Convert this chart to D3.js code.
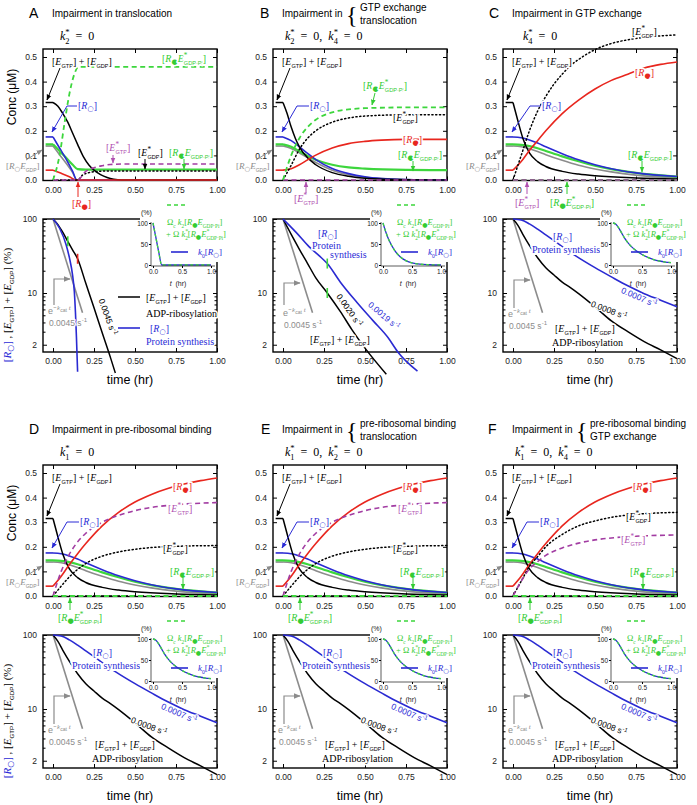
<!DOCTYPE html>
<html><head><meta charset="utf-8">
<script src="https://cdn.jsdelivr.net/npm/d3@7"></script>
<style>body{margin:0;background:#fff}text{white-space:pre}</style>
</head><body>
<svg id="c" width="697" height="805"></svg>
<script>
// ---------- tick labels ----------
const tTicks = [0, 0.25, 0.5, 0.75, 1];
const tTickLabels = ['0.00', '0.25', '0.50', '0.75', '1.00'];
const concTicks = [0, 0.1, 0.2, 0.3, 0.4, 0.5];
const concTickLabels = ['0.0', '0.1', '0.2', '0.3', '0.4', '0.5'];
const pctTicks = [2, 10, 100];
const pctTickLabels = ['2', '10', '100'];
const pctMinor = [3, 4, 5, 6, 7, 8, 9, 20, 30, 40, 50, 60, 70, 80, 90];
const insetXTicks = [0, 0.5, 1];
const insetXLabels = ['0.0', '0.5', '1.0'];
const insetYTicks = [0, 50, 100];

// ---------- pre-phase (t < 0) levels ----------
const preStart = -0.045;
const preKeys = ['gray', 'greenS', 'blue', 'black', 'red'];
const preValues = [0.138, 0.145, 0.175, 0.315, 0.04];

// ---------- top panels: concentration (uM) vs time (hr) ----------
const zeroLine = [[0, 0], [1, 0]];
const A_black = [[0,0.315],[0.03,0.3],[0.06,0.27],[0.09,0.235],[0.12,0.19],[0.15,0.145],[0.185,0.095],[0.22,0.06],[0.25,0.04],[0.29,0.022],[0.33,0.01],[0.37,0.003],[0.42,0],[1,0]];
const A_blue = [[0,0.175],[0.04,0.13],[0.08,0.085],[0.12,0.035],[0.145,0],[1,0]];
const A_gray = [[0,0.138],[0.04,0.103],[0.08,0.068],[0.12,0.03],[0.145,0],[1,0]];
const A_green = [[0,0.145],[0.04,0.118],[0.08,0.09],[0.12,0.062],[0.15,0.044],[0.2,0.042],[1,0.042]];
const A_red = [[0,0.04],[0.05,0.027],[0.1,0.013],[0.14,0],[1,0]];
const A_greenDash = [[0,0],[0.04,0.1],[0.07,0.23],[0.1,0.35],[0.13,0.43],[0.155,0.46],[1,0.46]];
const A_magDash = [[0,0],[0.15,0],[0.2,0.035],[0.25,0.05],[0.3,0.058],[0.35,0.063],[0.45,0.065],[1,0.065]];
const A_dotted = [[0,0],[0.15,0],[0.18,0.02],[0.22,0.03],[0.27,0.035],[0.35,0.037],[1,0.037]];

const B_black = [[0,0.315],[0.025,0.27],[0.05,0.215],[0.075,0.17],[0.1,0.135],[0.15,0.09],[0.2,0.062],[0.3,0.03],[0.4,0.015],[0.5,0.007],[0.75,0.001],[1,0]];
const B_blue = [[0,0.175],[0.05,0.16],[0.1,0.135],[0.15,0.108],[0.2,0.083],[0.3,0.047],[0.4,0.026],[0.5,0.013],[0.6,0.006],[0.75,0.002],[1,0]];
const B_gray = [[0,0.138],[0.05,0.128],[0.1,0.11],[0.15,0.09],[0.2,0.071],[0.3,0.04],[0.4,0.021],[0.5,0.011],[0.75,0.002],[1,0]];
const B_green = [[0,0.145],[0.05,0.135],[0.1,0.117],[0.15,0.098],[0.2,0.082],[0.3,0.062],[0.4,0.051],[0.5,0.046],[0.75,0.041],[1,0.04]];
const B_red = [[0,0.04],[0.05,0.046],[0.1,0.062],[0.15,0.082],[0.2,0.101],[0.3,0.13],[0.4,0.148],[0.5,0.157],[0.6,0.162],[0.75,0.165],[1,0.165]];
const B_greenDash = [[0,0],[0.05,0.1],[0.1,0.17],[0.15,0.215],[0.2,0.245],[0.3,0.275],[0.4,0.287],[0.5,0.292],[0.75,0.295],[1,0.295]];
const B_dotted = [[0,0],[0.05,0.06],[0.1,0.125],[0.15,0.17],[0.2,0.2],[0.3,0.235],[0.4,0.252],[0.5,0.26],[0.75,0.265],[1,0.265]];

const CF_black = [[0,0.315],[0.03,0.24],[0.06,0.17],[0.1,0.11],[0.15,0.075],[0.2,0.055],[0.3,0.035],[0.4,0.024],[0.5,0.017],[0.75,0.008],[1,0.004]];
const CF_blue = [[0,0.175],[0.05,0.172],[0.1,0.163],[0.15,0.15],[0.2,0.135],[0.3,0.107],[0.4,0.082],[0.5,0.062],[0.6,0.046],[0.75,0.029],[1,0.014]];
const CF_green = [[0,0.145],[0.05,0.143],[0.1,0.138],[0.15,0.129],[0.2,0.118],[0.3,0.096],[0.4,0.076],[0.5,0.058],[0.6,0.044],[0.75,0.029],[1,0.014]];
const CF_gray = [[0,0.138],[0.05,0.135],[0.1,0.127],[0.15,0.116],[0.2,0.103],[0.3,0.08],[0.4,0.06],[0.5,0.045],[0.6,0.033],[0.75,0.02],[1,0.009]];
const C_red = [[0,0.04],[0.05,0.075],[0.1,0.12],[0.15,0.16],[0.2,0.2],[0.3,0.27],[0.4,0.325],[0.5,0.37],[0.6,0.405],[0.7,0.43],[0.8,0.455],[0.9,0.47],[1,0.48]];
const C_dotted = [[0,0],[0.05,0.1],[0.1,0.2],[0.15,0.28],[0.2,0.34],[0.25,0.39],[0.3,0.43],[0.35,0.465],[0.4,0.49],[0.5,0.53],[0.6,0.555],[0.7,0.57],[0.85,0.583],[1,0.59]];
const DE_red = [[0,0.04],[0.05,0.08],[0.1,0.128],[0.15,0.172],[0.2,0.213],[0.3,0.285],[0.4,0.34],[0.5,0.382],[0.6,0.413],[0.7,0.437],[0.8,0.455],[0.9,0.469],[1,0.48]];
const DE_magDash = [[0,0],[0.05,0.1],[0.1,0.17],[0.15,0.22],[0.2,0.255],[0.3,0.3],[0.4,0.328],[0.5,0.347],[0.6,0.36],[0.75,0.371],[1,0.38]];
const DE_dotted = [[0,0],[0.05,0.04],[0.1,0.078],[0.15,0.108],[0.2,0.132],[0.3,0.162],[0.4,0.179],[0.5,0.19],[0.6,0.197],[0.75,0.202],[1,0.205]];
const F_dotted = [[0,0],[0.05,0.06],[0.1,0.12],[0.15,0.16],[0.2,0.2],[0.3,0.25],[0.4,0.285],[0.5,0.305],[0.6,0.32],[0.75,0.332],[1,0.34]];
const F_magDash = [[0,0],[0.05,0.06],[0.1,0.11],[0.15,0.14],[0.2,0.165],[0.3,0.195],[0.4,0.215],[0.5,0.228],[0.6,0.236],[0.75,0.243],[1,0.248]];

// ---------- bottom panels: % remaining (log) ----------
const pctGray = [[0,100],[0.18,5.4]];
const A_botBlack = [[0,100],[0.03,84],[0.06,66],[0.09,50],[0.12,38],[0.15,29],[0.2,13.5],[0.25,6.3],[0.3,2.9],[0.35,1.35],[0.38,0.83]];
const A_botBlue = [[0,100],[0.04,75],[0.08,45],[0.1,30],[0.12,17],[0.13,10.5],[0.137,5.4],[0.143,2.5],[0.15,0.86]];
const B_botBlack = [[0,100],[0.05,62],[0.1,39],[0.15,25],[0.2,16],[0.27,10],[0.35,5.6],[0.42,3.2],[0.5,1.8],[0.63,0.8]];
const B_botBlue = [[0,100],[0.08,66],[0.16,42],[0.22,32],[0.27,25],[0.35,14],[0.45,7.5],[0.55,4.2],[0.64,2.5],[0.7,1.6],[0.82,0.88]];
const CF_botBlack = [[0,100],[0.03,82],[0.06,62],[0.1,44],[0.15,30],[0.2,22],[0.25,17.5],[0.3,14],[0.35,11.8],[0.4,9.8],[0.5,6.5],[0.6,4.2],[0.7,3],[0.8,2.2],[0.9,1.7],[1,1.3]];
const CF_botBlue = [[0,100],[0.05,97],[0.1,86],[0.15,73],[0.2,61],[0.25,51],[0.38,32],[0.5,22],[0.6,16.5],[0.7,12.5],[0.8,9.8],[0.9,8],[1,6.5]];
const A_markT = [0.09, 0.15], A_markV = [50, 29], A_markC = ['greenS', 'red'];
const B_markT = [0.27, 0.27], B_markV = [25, 10], B_markC = ['greenS', 'greenS'];

// ---------- insets ----------
const A_inset = [[0,100],[0.05,65],[0.1,30],[0.15,0],[1,0]];
const B_inset = [[0,100],[0.05,78],[0.1,60],[0.2,35],[0.3,19],[0.4,10],[0.5,5],[0.6,2.5],[0.8,0.6],[1,0]];
const CF_inset = [[0,100],[0.05,97],[0.1,88],[0.15,76],[0.2,64],[0.3,46],[0.4,34],[0.5,25],[0.6,18],[0.7,13],[0.8,9.5],[0.9,7],[1,5.5]];

// ---------- styles ----------
const SERIF = '"Liberation Serif","Times New Roman",serif';
const SANS = '"Liberation Sans",Arial,sans-serif';
const SYM = '"DejaVu Sans",sans-serif';
const STY = {
  gray: {c: '#8c8c8c', w: 1.6}, greenS: {c: '#3dd63d', w: 2.2}, blue: {c: '#2a2ad2', w: 1.6},
  black: {c: '#000', w: 1.5}, red: {c: '#e8261e', w: 1.6}, magD: {c: '#a23ca2', w: 1.6, dash: '5,3.5'},
  dot: {c: '#000', w: 1.5, dash: '1.2,2.6'}, greenD: {c: '#3dd63d', w: 1.8, dash: '5,3.5'}, blackD: {c: '#000', w: 1.4, dash: '3,5'}
};
const TXT = {black: '#000', blue: '#2b2bd6', green: '#33cc33', mag: '#b050b0', red: '#e8261e', gray: '#8c8c8c'};

const colX = [0, 230, 460], rowY = [0, 416];
const xT = d3.scaleLinear().domain([0, 1]).range([53, 217]);
const yT = d3.scaleLinear().domain([0, 0.5]).range([180, 57]);
const yB = d3.scaleLog().domain([10, 100]).range([293, 219]);
const xI = d3.scaleLinear().domain([0, 1]).range([153, 211]);
const yI = d3.scaleLinear().domain([0, 100]).range([265, 223]);

const svg = d3.select('#c');
const defs = svg.append('defs');
Object.entries(TXT).forEach(([k, c]) => {
  defs.append('marker').attr('id', 'ah-' + k).attr('viewBox', '0 0 10 10').attr('refX', 9).attr('refY', 5)
    .attr('markerWidth', 6).attr('markerHeight', 6).attr('orient', 'auto')
    .append('path').attr('d', 'M0,1L10,5L0,9z').attr('fill', c);
});

function rich(g, str, x, y, o = {}) {
  const fs = o.fs || 10;
  const t = g.append('text').attr('x', x).attr('y', y)
    .attr('font-family', o.family || SERIF).attr('font-size', fs)
    .attr('fill', o.fill || '#000').attr('text-anchor', o.anchor || 'start');
  if (o.rotate) t.attr('transform', `rotate(${o.rotate},${x},${y})`);
  if (o.halo) t.attr('stroke', '#fff').attr('stroke-width', o.halo).attr('paint-order', 'stroke').attr('stroke-linejoin', 'round');
  const segs = [];
  let buf = '', it = false, i = 0;
  const flush = () => { if (buf) { segs.push({s: buf, it, k: 'n'}); buf = ''; } };
  while (i < str.length) {
    const c = str[i];
    if (c === '`') { flush(); it = !it; i++; continue; }
    if ((c === '_' || c === '^') && str[i + 1] === '{') {
      flush();
      const e = str.indexOf('}', i + 2);
      segs.push({s: str.slice(i + 2, e), it: false, k: c === '_' ? 'sub' : 'sup'});
      i = e + 1; continue;
    }
    buf += c; i++;
  }
  flush();
  let cur = 0, prev = null;
  segs.forEach(sg => {
    let sh = 0, size = fs, fam = null, dx = 0;
    if (sg.k === 'sub') {
      const sym = sg.s === '○' || sg.s === '●';
      sh = sym ? 0.2 * fs : 0.3 * fs;
      size = sym ? 0.72 * fs : (o.subSize || 0.56) * fs;
      fam = sym ? SYM : (o.subFam || SANS);
      if (prev && prev.k === 'sup') dx = -prev.w;
    } else if (sg.k === 'sup') { sh = -0.42 * fs; size = 0.72 * fs; }
    const ts = t.append('tspan').text(sg.s).attr('font-size', size).attr('dy', sh - cur);
    if (dx) ts.attr('dx', dx);
    if (fam) ts.attr('font-family', fam);
    if (sg.k === 'sub' && (sg.s === '○')) ts.attr('font-weight', 'bold');
    if (sg.it) ts.attr('font-style', 'italic');
    cur = sh;
    sg.w = ts.node().getComputedTextLength();
    prev = sg;
  });
  return t;
}
function arrow(g, pts, col, w = 1) {
  g.append('path').attr('d', d3.line()(pts)).attr('fill', 'none').attr('stroke', TXT[col])
    .attr('stroke-width', w).attr('marker-end', `url(#ah-${col})`);
}
function seg(g, pts, col, w = 1.6, dash = null) {
  g.append('path').attr('d', d3.line()(pts)).attr('fill', 'none').attr('stroke', col).attr('stroke-width', w).attr('stroke-dasharray', dash);
}

const L = {
  EE: '[`E`_{GTP}] + [`E`_{GDP}]', Ro: '[`R`_{○}]', Rf: '[`R`_{●}]',
  RfEs: '[`R`_{●}`E`^{*}_{GDP·Pi}]', RfE: '[`R`_{●}`E`_{GDP·Pi}]',
  EsT: '[`E`^{*}_{GTP}]', EsD: '[`E`^{*}_{GDP}]', RoE: '[`R`_{○}`E`_{GDP}]'
};

// ---------- panel definitions ----------
const panels = [
  {id: 'A', col: 0, row: 0, lx: 29, title: ['translocation'], k: '`k`^{*}_{2}  =  0', kx: 60,
   top: [[A_gray, 'gray'], [A_green, 'greenS'], [A_blue, 'blue'], [A_black, 'black'], [A_red, 'red'], [A_dotted, 'dot'], [A_magDash, 'magD'], [A_greenDash, 'greenD']],
   bot: {black: A_botBlack, blue: A_botBlue, mT: A_markT, mV: A_markV, mC: A_markC}, inset: A_inset, kind: 'A'},
  {id: 'B', col: 1, row: 0, lx: 30, title: ['GTP exchange', 'translocation'], k: '`k`^{*}_{2}  =  0,  `k`^{*}_{4}  =  0', kx: 55,
   top: [[B_gray, 'gray'], [B_green, 'greenS'], [B_blue, 'blue'], [B_black, 'black'], [B_red, 'red'], [B_dotted, 'dot'], [zeroLine, 'magD'], [B_greenDash, 'greenD']],
   bot: {black: B_botBlack, blue: B_botBlue, mT: B_markT, mV: B_markV, mC: B_markC}, inset: B_inset, kind: 'B'},
  {id: 'C', col: 2, row: 0, lx: 29, title: ['GTP exchange'], k: '`k`^{*}_{4}  =  0', kx: 63,
   top: [[CF_gray, 'gray'], [CF_green, 'greenS'], [CF_blue, 'blue'], [CF_black, 'black'], [C_red, 'red'], [C_dotted, 'dot'], [zeroLine, 'greenD'], [zeroLine, 'magD']],
   bot: {black: CF_botBlack, blue: CF_botBlue}, inset: CF_inset, kind: 'C'},
  {id: 'D', col: 0, row: 1, lx: 29, title: ['pre-ribosomal binding'], k: '`k`^{*}_{1}  =  0', kx: 60,
   top: [[zeroLine, 'blackD'], [CF_gray, 'gray'], [CF_green, 'greenS'], [CF_blue, 'blue'], [CF_black, 'black'], [DE_red, 'red'], [DE_dotted, 'dot'], [DE_magDash, 'magD'], [zeroLine, 'greenD']],
   bot: {black: CF_botBlack, blue: CF_botBlue}, inset: CF_inset, kind: 'D'},
  {id: 'E', col: 1, row: 1, lx: 31, title: ['pre-ribosomal binding', 'translocation'], k: '`k`^{*}_{1}  =  0,  `k`^{*}_{2}  =  0', kx: 55,
   top: [[zeroLine, 'blackD'], [CF_gray, 'gray'], [CF_green, 'greenS'], [CF_blue, 'blue'], [CF_black, 'black'], [DE_red, 'red'], [DE_dotted, 'dot'], [DE_magDash, 'magD'], [zeroLine, 'greenD']],
   bot: {black: CF_botBlack, blue: CF_botBlue}, inset: CF_inset, kind: 'D'},
  {id: 'F', col: 2, row: 1, lx: 28, title: ['pre-ribosomal binding', 'GTP exchange'], k: '`k`^{*}_{1}  =  0,  `k`^{*}_{4}  =  0', kx: 55,
   top: [[zeroLine, 'blackD'], [CF_gray, 'gray'], [CF_green, 'greenS'], [CF_blue, 'blue'], [CF_black, 'black'], [DE_red, 'red'], [F_dotted, 'dot'], [F_magDash, 'magD'], [zeroLine, 'greenD']],
   bot: {black: CF_botBlack, blue: CF_botBlue}, inset: CF_inset, kind: 'F'}
];

function styleAxis(a, fs = 8.5) {
  a.select('.domain').remove();
  a.attr('font-family', SANS).attr('font-size', fs);
  a.selectAll('line').attr('stroke', '#000');
  a.selectAll('text').attr('fill', '#222');
}

function drawTitle(g, p) {
  g.append('text').attr('x', p.lx).attr('y', 18).attr('font-family', SANS).attr('font-size', 14).text(p.id);
  if (p.title.length === 1) {
    g.append('text').attr('x', 52).attr('y', 17).attr('font-family', SANS).attr('font-size', 10).text('Impairment in ' + p.title[0]);
  } else {
    g.append('text').attr('x', 52).attr('y', 17).attr('font-family', SANS).attr('font-size', 10).text('Impairment in');
    g.append('text').attr('x', 116).attr('y', 23).attr('font-family', SERIF).attr('font-size', 24).attr('font-weight', 300).text('{');
    g.append('text').attr('x', 130).attr('y', 11).attr('font-family', SANS).attr('font-size', 10).text(p.title[0]);
    g.append('text').attr('x', 130).attr('y', 24).attr('font-family', SANS).attr('font-size', 10).text(p.title[1]);
  }
  rich(g, p.k, p.kx, 40, {fs: 12, subFam: SERIF, subSize: 0.7});
}

function drawTop(g, p) {
  g.append('rect').attr('x', 43).attr('y', 49).attr('width', 174).attr('height', 131.5)
    .attr('fill', 'none').attr('stroke', '#000').attr('stroke-width', 1.4);
  const ax = g.append('g').attr('transform', 'translate(0,180.5)')
    .call(d3.axisBottom(xT).tickValues(tTicks).tickFormat((d, i) => tTickLabels[i]).tickSizeInner(-4).tickSizeOuter(0).tickPadding(6));
  styleAxis(ax);
  const at = g.append('g').attr('transform', 'translate(0,49)')
    .call(d3.axisTop(xT).tickValues(tTicks).tickFormat('').tickSizeInner(-4).tickSizeOuter(0));
  styleAxis(at);
  const ay = g.append('g').attr('transform', 'translate(43,0)')
    .call(d3.axisLeft(yT).tickValues(concTicks).tickFormat((d, i) => concTickLabels[i]).tickSizeInner(-4).tickSizeOuter(0).tickPadding(6));
  styleAxis(ay);
  const ar = g.append('g').attr('transform', 'translate(217,0)')
    .call(d3.axisRight(yT).tickValues(concTicks).tickFormat('').tickSizeInner(-4).tickSizeOuter(0));
  styleAxis(ar);

  const line = d3.line().x(d => xT(d[0])).y(d => yT(d[1])).curve(d3.curveMonotoneX);
  preKeys.forEach((k, i) => {
    const s = STY[k];
    g.append('path').attr('d', d3.line().x(d => xT(d[0])).y(d => yT(d[1]))([[preStart, preValues[i]], [0, preValues[i]]]))
      .attr('fill', 'none').attr('stroke', s.c).attr('stroke-width', s.w);
  });
  p.top.forEach(([d, k]) => {
    const s = STY[k];
    g.append('path').attr('d', line(d)).attr('fill', 'none').attr('stroke', s.c).attr('stroke-width', s.w)
      .attr('stroke-dasharray', s.dash || null).attr('stroke-linecap', k === 'dot' ? 'round' : 'butt');
  });

  // common annotations
  rich(g, L.EE, 52, 65, {halo: 3});
  arrow(g, [[60, 68], [47, 100]], 'black');
  rich(g, L.RoE, 6, 169, {fill: TXT.gray, fs: 9});
  arrow(g, [[26, 160], [42, 150]], 'gray');

  const K = p.kind;
  if (K === 'A') {
    rich(g, L.Ro, 78, 109, {fill: TXT.blue, halo: 3});
    arrow(g, [[77, 106], [67, 106], [52, 132]], 'blue');
    rich(g, L.RfEs, 162, 62, {fill: TXT.green, halo: 3});
    rich(g, L.EsT, 106, 151, {fill: TXT.mag, halo: 3});
    arrow(g, [[113, 155], [113, 163]], 'mag');
    rich(g, L.EsD, 138, 156, {halo: 3});
    arrow(g, [[145, 159], [145, 169]], 'black');
    rich(g, L.RfE, 169, 156, {fill: TXT.green, halo: 3});
    arrow(g, [[184, 159], [184, 169]], 'green');
    rich(g, L.Rf, 72, 207, {fill: TXT.red});
    arrow(g, [[78, 197], [78, 182]], 'red');
  } else if (K === 'B') {
    rich(g, L.Ro, 80, 109, {fill: TXT.blue, halo: 3});
    arrow(g, [[79, 106], [67, 106], [52, 132]], 'blue');
    rich(g, L.RfEs, 133, 89, {fill: TXT.green, halo: 3});
    arrow(g, [[145, 93], [142, 105]], 'green');
    rich(g, L.EsD, 163, 121, {halo: 3});
    rich(g, L.Rf, 173, 143, {fill: TXT.red, halo: 3});
    rich(g, L.RfE, 168, 158, {fill: TXT.green, halo: 3});
    arrow(g, [[183, 161], [183, 171]], 'green');
    rich(g, L.EsT, 64, 202, {fill: TXT.mag});
    arrow(g, [[76, 193], [76, 182]], 'mag');
  } else if (K === 'C') {
    rich(g, L.EsD, 172, 35, {halo: 3});
    rich(g, L.Rf, 175, 76, {fill: TXT.red, halo: 3});
    rich(g, L.Ro, 82, 109, {fill: TXT.blue, halo: 3});
    arrow(g, [[81, 106], [70, 106], [52, 132]], 'blue');
    rich(g, L.RfE, 168, 158, {fill: TXT.green, halo: 3});
    arrow(g, [[182, 161], [182, 172]], 'green');
    rich(g, L.EsT, 55, 206, {fill: TXT.mag});
    arrow(g, [[67, 194], [67, 182]], 'mag');
    rich(g, L.RfEs, 90, 206, {fill: TXT.green});
    arrow(g, [[107, 194], [107, 182]], 'green');
  } else {
    rich(g, L.Rf, 173, 74, {fill: TXT.red, halo: 3});
    if (K === 'F') {
      rich(g, L.EsD, 166, 104, {halo: 3});
      rich(g, L.EsT, 161, 127, {fill: TXT.mag, halo: 3});
    } else {
      rich(g, L.EsT, 168, 96, {fill: TXT.mag, halo: 3});
      rich(g, L.EsD, 163, 136, {halo: 3});
    }
    rich(g, L.Ro, 80, 109, {fill: TXT.blue, halo: 3});
    arrow(g, [[79, 106], [67, 106], [52, 132]], 'blue');
    rich(g, L.RfE, 170, 159, {fill: TXT.green, halo: 3});
    arrow(g, [[183, 162], [183, 173]], 'green');
    rich(g, L.RfEs, 58, 205, {fill: TXT.green});
    arrow(g, [[70, 194], [70, 182]], 'green');
  }
}

function grayLabel(g, ax, ay) {
  const t = g.append('text').attr('x', ax).attr('y', ay).attr('font-family', SANS).attr('font-size', 9).attr('fill', TXT.gray)
    .attr('stroke', '#fff').attr('stroke-width', 2.5).attr('paint-order', 'stroke');
  t.append('tspan').text('e');
  t.append('tspan').attr('dy', -4).attr('font-size', 7).text('−');
  t.append('tspan').attr('font-size', 7).attr('font-family', SERIF).attr('font-style', 'italic').text('k');
  t.append('tspan').attr('dy', 2).attr('font-size', 5).text('cat');
  t.append('tspan').attr('dy', -2).attr('font-size', 7).attr('font-family', SERIF).attr('font-style', 'italic').text(' t');
  rich(g, '0.0045 s^{-1}', ax + 1, ay + 12, {family: SANS, fs: 8.5, fill: TXT.gray, halo: 2.5});
}

function drawBottom(g, p) {
  g.append('rect').attr('x', 43).attr('y', 219).attr('width', 174).attr('height', 133)
    .attr('fill', 'none').attr('stroke', '#000').attr('stroke-width', 1.4);
  const ax = g.append('g').attr('transform', 'translate(0,352)')
    .call(d3.axisBottom(xT).tickValues(tTicks).tickFormat((d, i) => tTickLabels[i]).tickSizeInner(-4).tickSizeOuter(0).tickPadding(6));
  styleAxis(ax);
  const ay = g.append('g').attr('transform', 'translate(43,0)')
    .call(d3.axisLeft(yB).tickValues(pctTicks).tickFormat((d, i) => pctTickLabels[i]).tickSizeInner(-4).tickSizeOuter(0).tickPadding(6));
  styleAxis(ay);
  const am = g.append('g').attr('transform', 'translate(43,0)')
    .call(d3.axisLeft(yB).tickValues(pctMinor).tickFormat('').tickSizeInner(-2.5).tickSizeOuter(0));
  styleAxis(am);
  const ar = g.append('g').attr('transform', 'translate(217,0)')
    .call(d3.axisRight(yB).tickValues(pctTicks).tickFormat('').tickSizeInner(-4).tickSizeOuter(0));
  styleAxis(ar);
  const arm = g.append('g').attr('transform', 'translate(217,0)')
    .call(d3.axisRight(yB).tickValues(pctMinor).tickFormat('').tickSizeInner(-2.5).tickSizeOuter(0));
  styleAxis(arm);

  const line = d3.line().x(d => xT(d[0])).y(d => yB(d[1])).curve(d3.curveMonotoneX);
  g.append('path').attr('d', line(pctGray)).attr('fill', 'none').attr('stroke', STY.gray.c).attr('stroke-width', 1.6);
  g.append('path').attr('d', line(p.bot.black)).attr('fill', 'none').attr('stroke', '#000').attr('stroke-width', 1.5);
  g.append('path').attr('d', line(p.bot.blue)).attr('fill', 'none').attr('stroke', STY.blue.c).attr('stroke-width', 1.6);
  if (p.bot.mT) p.bot.mT.forEach((t, i) => {
    const x = xT(t), y = yB(p.bot.mV[i]);
    seg(g, [[x, y - 5], [x, y + 5]], STY[p.bot.mC[i]].c, 1.6);
  });

  const K = p.kind;
  if (K === 'A') {
    grayLabel(g, 48, 314);
    arrow(g, [[54, 305], [54, 279], [70, 279]], 'gray', 1.2);
    rich(g, '0.0045 s^{-1}', 105, 318, {family: SANS, fs: 8.5, anchor: 'middle', rotate: 70, halo: 2.5});
    seg(g, [[118, 297], [140, 297]], '#000', 1.5);
    rich(g, L.EE, 146, 301, {halo: 3});
    rich(g, 'ADP-ribosylation', 146, 317, {halo: 3});
    seg(g, [[118, 328], [140, 328]], STY.blue.c, 1.6);
    rich(g, L.Ro, 150, 332, {fill: TXT.blue, halo: 3});
    rich(g, 'Protein synthesis', 146, 345, {fill: TXT.blue, halo: 3});
  } else if (K === 'B') {
    grayLabel(g, 53, 316);
    arrow(g, [[54, 305], [54, 283], [70, 283]], 'gray', 1.2);
    rich(g, L.Ro, 88, 237, {fill: TXT.blue, halo: 3});
    rich(g, 'Protein', 82, 249, {fill: TXT.blue, halo: 3});
    rich(g, 'synthesis', 100, 258, {fill: TXT.blue, halo: 3});
    rich(g, '0.0019 s^{-1}', 152, 318, {family: SANS, fs: 8.5, anchor: 'middle', rotate: 40, fill: TXT.blue, halo: 2.5});
    rich(g, '0.0020 s^{-1}', 117, 312, {family: SANS, fs: 8.5, anchor: 'middle', rotate: 55, halo: 2.5});
    rich(g, L.EE, 80, 343, {halo: 3});
  } else {
    grayLabel(g, 48, 317);
    arrow(g, [[54, 308], [54, 280], [70, 280]], 'gray', 1.2);
    rich(g, L.Ro, 93, 240, {fill: TXT.blue, halo: 3});
    rich(g, 'Protein synthesis', 72, 253, {fill: TXT.blue, halo: 4});
    rich(g, '0.0007 s^{-1}', 178, 300, {family: SANS, fs: 8.5, anchor: 'middle', rotate: 23, fill: TXT.blue, halo: 2.5});
    rich(g, '0.0008 s^{-1}', 148, 313, {family: SANS, fs: 8.5, anchor: 'middle', rotate: 21, halo: 2.5});
    rich(g, L.EE, 95, 332, {halo: 3});
    rich(g, 'ADP-ribosylation', 92, 346, {halo: 3});
  }
  drawInset(g, p);
  g.append('text').attr('x', 130).attr('y', 384).attr('text-anchor', 'middle').attr('font-family', SANS).attr('font-size', 12.5).text('time (hr)');
}

function drawInset(g, p) {
  g.append('rect').attr('x', 140).attr('y', 198).attr('width', 97).attr('height', 64).attr('fill', '#fff');
  const il = d3.line().x(d => xI(d[0])).y(d => yI(d[1])).curve(d3.curveMonotoneX);
  g.append('path').attr('d', il(p.inset)).attr('fill', 'none').attr('stroke', STY.blue.c).attr('stroke-width', 1.3);
  g.append('path').attr('d', il(p.inset)).attr('fill', 'none').attr('stroke', STY.greenS.c).attr('stroke-width', 1.3).attr('stroke-dasharray', '3,2.5');
  seg(g, [[151, 222], [151, 266]], '#333', 0.8);
  seg(g, [[151, 266], [215, 266]], '#333', 0.8);
  const ay = g.append('g').attr('transform', 'translate(151,0)')
    .call(d3.axisLeft(yI).tickValues(insetYTicks).tickSizeInner(2).tickSizeOuter(0).tickPadding(1));
  styleAxis(ay, 6.5);
  const ax = g.append('g').attr('transform', 'translate(0,266)')
    .call(d3.axisBottom(xI).tickValues(insetXTicks).tickFormat((d, i) => insetXLabels[i]).tickSizeInner(2).tickSizeOuter(0).tickPadding(1));
  styleAxis(ax, 6.5);
  g.append('text').attr('x', 141).attr('y', 215).attr('font-family', SANS).attr('font-size', 7).attr('fill', '#222').text('(%)');
  rich(g, '`t`  (hr)', 178, 286, {family: SANS, fs: 7, anchor: 'middle', fill: '#222'});
  seg(g, [[167, 205], [188, 205]], STY.greenS.c, 1.4, '4,3');
  rich(g, 'Ω_{c} `k`_{2}[`R`_{●}`E`_{GDP·Pi}]', 167, 225, {fill: TXT.green, fs: 8.5, subFam: SERIF, subSize: 0.62});
  rich(g, '+ Ω `k`^{*}_{2}[`R`_{●}`E`^{*}_{GDP·Pi}]', 166, 237, {fill: TXT.green, fs: 8.5, subFam: SERIF, subSize: 0.62});
  seg(g, [[171, 252], [188, 252]], STY.blue.c, 1.6);
  rich(g, '`k`_{0}[`R`_{○}]', 198, 255, {fill: TXT.blue, fs: 9, subFam: SERIF, subSize: 0.62});
}

function yLabels(g) {
  g.append('text').attr('transform', 'translate(16,97) rotate(-90)').attr('text-anchor', 'middle')
    .attr('font-family', SANS).attr('font-size', 12).text('Conc (μM)');
  const lg = g.append('g');
  const t1 = rich(lg, '[`R`_{○}]', 0, 0, {fs: 11, fill: TXT.blue});
  const w1 = t1.node().getComputedTextLength();
  const t2 = rich(lg, ' , [`E`_{GTP}] + [`E`_{GDP}] (%)', w1, 0, {fs: 11});
  const w2 = t2.node().getComputedTextLength();
  lg.attr('transform', `translate(11,305) rotate(-90) translate(${-(w1 + w2) / 2},0)`);
}

panels.forEach(p => {
  const g = svg.append('g').attr('transform', `translate(${colX[p.col]},${rowY[p.row]})`);
  drawTitle(g, p);
  drawTop(g, p);
  drawBottom(g, p);
  if (p.col === 0) yLabels(g);
});
</script>
</body></html>
